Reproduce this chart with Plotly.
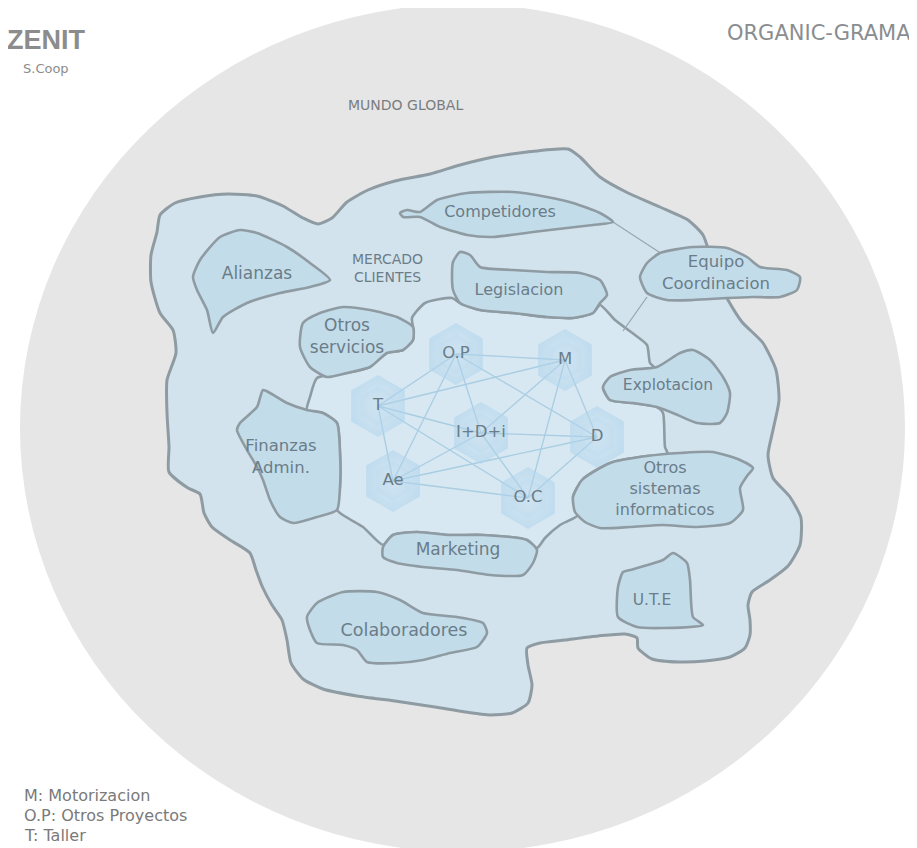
import plotly.graph_objects as go

# ---------------- data ----------------
region_labels = ["Alianzas", "Otros<br>servicios", "Finanzas<br>Admin.", "Competidores",
                 "Legislacion", "Equipo<br>Coordinacion", "Explotacion",
                 "Otros<br>sistemas<br>informaticos", "Marketing", "Colaboradores", "U.T.E"]
region_label_x = [257, 347, 281, 500, 519, 716, 668, 665, 458, 404, 652]
region_label_y = [275, 338, 458, 213, 291, 274, 386, 490, 551, 632, 601]

node_labels = ["O.P", "M", "T", "I+D+i", "D", "Ae", "O.C"]
node_x = [456, 565, 378, 481, 597, 393, 528]
node_y = [354, 360, 406, 433, 437, 481, 498]
edges = [("O.P", "M"), ("O.P", "T"), ("O.P", "I+D+i"), ("O.P", "D"), ("O.P", "Ae"),
         ("M", "T"), ("M", "I+D+i"), ("M", "O.C"), ("M", "D"),
         ("T", "I+D+i"), ("T", "O.C"), ("T", "Ae"),
         ("I+D+i", "D"), ("I+D+i", "Ae"), ("I+D+i", "O.C"),
         ("Ae", "D"), ("Ae", "O.C"), ("O.C", "D")]

legend_lines = ["M: Motorizacion", "O.P: Otros Proyectos", "T: Taller"]

# outlines (x, y) of the hand-drawn regions
outer_x = [157,160,175,200,228,257,283,303,318,332,347,368,395,430,460,493,527,568,580,600,628,660,688,703,710,718,728,742,763,776,779,773,768,773,790,801,800,788,770,752,748,750,750,745,730,705,680,652,638,637,625,598,565,540,527,528,532,528,512,490,465,435,395,357,323,303,291,287,282,272,262,256,250,230,212,204,200,188,169,169,167,167,176,173,160,151,151]
outer_y = [232,215,203,197,194,196,206,218,224,218,202,190,181,174,165,157,152,149,157,177,193,207,220,235,255,280,300,322,343,370,400,430,455,478,497,518,545,566,580,592,605,620,635,648,657,661,662,659,648,638,634,636,640,643,648,665,685,703,713,715,712,707,701,696,689,679,663,640,620,605,586,570,553,540,527,513,494,488,472,447,413,380,353,330,313,282,255]

core_x = [412,425,452,460,480,513,547,573,593,600,615,635,647,650,655,633,610,603,610,633,657,663,665,668,647,613,600,582,573,578,560,545,537,527,483,450,417,393,383,363,337,340,340,337,323,307,310,317,347,370,387,403,413,413]
core_y = [318,303,298,303,310,313,317,318,313,305,320,335,345,363,368,372,378,388,400,403,407,413,447,455,456,462,468,480,497,515,525,538,548,540,535,535,532,535,545,527,510,487,453,423,413,410,397,378,373,367,353,350,340,327]

alianzas_x = [193,200,220,240,257,287,310,330,310,280,247,223,213,207,197]
alianzas_y = [277,260,237,230,233,247,263,280,287,293,303,317,333,310,290]
servicios_x = [300,303,320,343,370,397,413,413,403,387,370,347,327,310]
servicios_y = [347,323,313,307,310,317,327,340,350,353,367,373,377,367]
finanzas_x = [263,257,240,237,247,257,263,270,280,293,317,337,340,340,337,323,307,287,270]
finanzas_y = [390,407,423,430,450,467,480,500,517,523,517,510,487,453,423,413,410,403,393]
compet_x = [400,407,420,437,467,513,547,573,600,613,593,567,533,493,467,440,420,403]
compet_y = [213,210,212,200,193,192,197,203,213,222,225,228,232,237,235,227,217,217]
legis_x = [453,460,470,480,513,547,580,600,607,600,593,573,547,513,480,460,453,452]
legis_y = [262,252,255,267,270,272,273,280,295,303,313,318,317,313,310,303,290,275]
equipo_x = [640,647,660,693,727,747,760,787,800,797,780,753,727,693,667,647]
equipo_y = [277,263,253,247,248,257,267,270,277,290,297,297,298,300,300,293]
explot_x = [603,610,630,657,680,693,710,723,730,727,720,697,673,657,633,610]
explot_y = [387,377,370,367,353,350,360,377,393,413,423,423,413,407,403,400]
sist_x = [575,573,582,600,613,647,680,713,740,753,747,740,743,730,697,663,630,600,585]
sist_y = [512,497,480,468,462,456,453,452,460,468,476,488,510,523,527,525,527,528,522]
market_x = [383,383,393,417,450,483,527,537,533,523,490,457,423,397]
market_y = [557,547,535,532,535,535,540,550,563,575,575,570,567,563]
colab_x = [307,317,343,377,400,423,457,483,487,477,450,423,397,367,357,343,317,310]
colab_y = [617,603,592,592,600,613,617,623,633,647,653,660,663,662,650,645,643,630]
ute_x = [623,630,663,673,687,690,693,703,663,637,618,618]
ute_y = [572,570,560,553,563,580,617,625,628,627,617,587]

inner_regions = [(alianzas_x, alianzas_y), (servicios_x, servicios_y), (finanzas_x, finanzas_y),
                 (compet_x, compet_y), (legis_x, legis_y), (equipo_x, equipo_y),
                 (explot_x, explot_y), (sist_x, sist_y), (market_x, market_y),
                 (colab_x, colab_y), (ute_x, ute_y)]

# thin connector lines
link1_x = [613, 662]
link1_y = [222, 254]
link2_x = [647, 623]
link2_y = [297, 331]

# ---------------- styling ----------------
OUTLINE = "#8f9ba2"
OUTER_FILL = "#d3e3ed"
CORE_FILL = "#d7e8f2"
BLOB_FILL = "#c3dcea"
TXT = "#6a7d89"
FONT = "DejaVu Sans"
PAGE_OFFSET = 8  # browser body margin
region_font_sizes = [17, 17, 16.5, 16, 16, 16.5, 15.5, 16, 17, 17.5, 15.5]

fig = go.Figure()


def closed(xs, ys):
    return list(xs) + [xs[0]], list(ys) + [ys[0]]


ox, oy = closed(outer_x, outer_y)
fig.add_trace(go.Scatter(x=ox, y=oy, mode="lines", fill="toself", fillcolor=OUTER_FILL,
                         line=dict(color=OUTLINE, width=3, shape="spline", smoothing=0.6)))
cx, cy = closed(core_x, core_y)
fig.add_trace(go.Scatter(x=cx, y=cy, mode="lines", fill="toself", fillcolor=CORE_FILL,
                         line=dict(color=OUTLINE, width=2.6, shape="spline", smoothing=0.6)))
for lx, ly in [(link1_x, link1_y), (link2_x, link2_y)]:
    fig.add_trace(go.Scatter(x=lx, y=ly, mode="lines", line=dict(color="#9aa6ad", width=1.3)))

idx = {n: i for i, n in enumerate(node_labels)}
ex, ey = [], []
for a, b in edges:
    ex += [node_x[idx[a]], node_x[idx[b]], None]
    ey += [node_y[idx[a]], node_y[idx[b]], None]
fig.add_trace(go.Scatter(x=ex, y=ey, mode="lines", line=dict(color="#a9cde2", width=1.3)))

# soft node halos
fig.add_trace(go.Scatter(x=node_x, y=node_y, mode="markers",
                         marker=dict(size=62, color="rgba(176,212,236,0.6)", symbol="hexagon",
                                     gradient=dict(type="radial", color="rgba(176,212,236,0.0)"),
                                     line=dict(width=0))))
fig.add_trace(go.Scatter(x=node_x, y=node_y, mode="markers",
                         marker=dict(size=40, color="rgba(180,214,237,0.22)", symbol="hexagon",
                                     line=dict(width=0))))

for xs, ys in inner_regions:
    bx, by = closed(xs, ys)
    fig.add_trace(go.Scatter(x=bx, y=by, mode="lines", fill="toself", fillcolor=BLOB_FILL,
                             line=dict(color=OUTLINE, width=2.6, shape="spline", smoothing=0.6)))

fig.add_trace(go.Scatter(x=node_x, y=node_y, mode="text", text=node_labels,
                         textfont=dict(family=FONT, size=16.5, color=TXT)))
fig.add_trace(go.Scatter(x=region_label_x, y=region_label_y, mode="text", text=region_labels,
                         textfont=dict(family=FONT, size=region_font_sizes, color=TXT)))

annotations = [
    dict(x=387, y=268, text="MERCADO<br>CLIENTES", font=dict(family=FONT, size=14, color=TXT)),
    dict(x=405, y=105, text="MUNDO GLOBAL", font=dict(family=FONT, size=14, color="#7a7d80")),
    dict(x=913, y=33, text="ORGANIC-GRAMA", xanchor="right",
         font=dict(family=FONT, size=21, color="#8a8d90")),
    dict(x=46, y=40, text="<b>ZENIT</b>", font=dict(family="Liberation Sans", size=27, color="#8c8c8c")),
    dict(x=46, y=68, text="S.Coop", font=dict(family=FONT, size=13, color="#8c8c8c")),
]
for i, t in enumerate(legend_lines):
    annotations.append(dict(x=22, y=795 + 20 * i, text=t, xanchor="left",
                            font=dict(family=FONT, size=16, color="#7a7a7a")))
for a in annotations:
    a.update(xref="x", yref="y", showarrow=False, yanchor="middle")

fig.update_layout(
    width=917 - PAGE_OFFSET, height=848 - PAGE_OFFSET,
    margin=dict(l=0, r=0, t=0, b=0, pad=0),
    paper_bgcolor="white", plot_bgcolor="white",
    showlegend=False, hovermode=False,
    xaxis=dict(range=[PAGE_OFFSET, 917], visible=False, fixedrange=True),
    yaxis=dict(range=[848, PAGE_OFFSET], visible=False, fixedrange=True),
    shapes=[dict(type="circle", xref="x", yref="y", x0=20, x1=905, y0=4, y1=852,
                 fillcolor="#e6e6e6", line=dict(width=0), layer="below")],
    annotations=annotations,
)

fig.write_html("out.html")
